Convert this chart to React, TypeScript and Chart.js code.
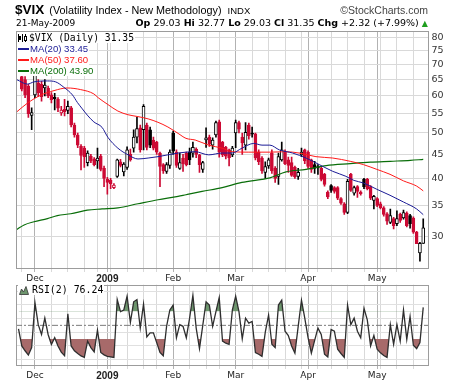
import React, { useEffect, useRef } from 'react';
import { Chart, registerables } from 'chart.js';

Chart.register(...registerables);

// ---------------- data ----------------
// one entry per trading day, 21-Nov-2008 .. 21-May-2009
const opens = [
  74, 66, 65, 63, 54.5, 60.3, 64, 63.5, 62.4, 62.4,
  60.3, 59.6, 59, 55.2, 56.2, 55.9, 56.6, 52, 49.5, 46.8,
  46.4, 43.2, 44.6, 44, 43.6, 44.6, 42, 39.8, 39.6, 38.2,
  40.4, 43.4, 41.3, 42.2, 45, 46.4, 49, 51.3, 50.8, 52,
  50.8, 48.3, 47.8, 45.3, 42.8, 41.4, 42.6, 50, 45.5, 42,
  44.2, 45.3, 45.5, 45.3, 46.2, 44.9, 41.8, 48.3, 49, 47.1,
  49.5, 52.8, 47.8, 46.6, 46, 44.9, 50, 52.6, 49, 47.1,
  52, 50, 49.8, 45.5, 44.2, 41.2, 42.5, 45.3, 42, 40.4,
  43.8, 45.5, 43.8, 43.2, 42.2, 40.4, 44.9, 46, 45.5, 43.8,
  42.8, 42.4, 42, 40.8, 37.4, 38.6, 38.2, 38.2, 36.2, 35.3,
  33.8, 40.8, 37.2, 38.4, 37.4, 39.8, 39.8, 38.4, 35.9, 36.2,
  35.3, 34.6, 33.6, 32.2, 32.8, 32, 33.5, 32.9, 33.7, 33.3,
  32.9, 30.7, 27.7, 29.03,
];
const highs = [
  78, 67.5, 66, 63.5, 56.6, 70, 65, 64.5, 65, 63,
  61, 60.8, 59.5, 57, 59, 58.5, 57, 52.5, 50, 47.2,
  46.8, 45.8, 45, 44.3, 46.4, 45, 42.5, 40.2, 40, 39,
  44, 43.9, 43.2, 46.7, 46.2, 50.8, 54, 52, 57.5, 52.5,
  51.5, 49, 48, 45.5, 43, 43.2, 46, 50.5, 46, 45.3,
  45, 45.5, 46.4, 47.8, 46.5, 45, 43.5, 51.3, 49.5, 48.8,
  53, 53.3, 48, 46.8, 46.2, 46.8, 53.3, 53, 50, 52.6,
  52.5, 51.5, 50, 46, 44.5, 43.4, 44.2, 46, 42.4, 45.3,
  47.8, 46, 44.4, 44.4, 42.5, 42, 46.4, 46.2, 45.8, 44,
  43.5, 42.8, 42.4, 41, 37.6, 38.8, 38.4, 38.4, 36.4, 35.5,
  39.8, 41, 38.5, 38.6, 37.6, 40, 40, 38.6, 36.8, 36.4,
  35.6, 34.8, 33.8, 34.4, 33, 34.1, 33.7, 34.2, 33.9, 33.5,
  33.1, 30.8, 29.2, 32.77,
];
const lows = [
  69, 61.5, 59.5, 54, 50.8, 59.5, 59.8, 58.5, 60, 59.5,
  58, 56, 55.5, 54.5, 54.4, 55, 51.5, 49, 46.5, 41.7,
  42.2, 42.5, 43.2, 42.5, 42, 41.5, 38.4, 37, 38, 38,
  40.2, 42.3, 40.5, 41.8, 43.5, 45.5, 47.6, 45.5, 46, 46,
  46.5, 46, 45, 38.4, 41, 41, 42, 45, 42.2, 41.8,
  41.4, 42.5, 42.8, 44.4, 44.3, 41.2, 41.2, 46.6, 46.8, 46.2,
  49, 44.4, 44.5, 44, 42.5, 44.5, 46.5, 50, 45, 46,
  48.5, 49, 43.8, 42.8, 41, 40, 42, 41, 39.2, 38.8,
  43.5, 42.8, 41.2, 40.4, 40, 39.8, 44.5, 43, 42, 41.2,
  41, 40.8, 39.5, 38.5, 36.2, 37.3, 37.2, 36, 35.2, 33.5,
  33.6, 37.5, 36.8, 36.4, 36.8, 38, 37.8, 36, 34.4, 34.8,
  34.4, 33.2, 31.9, 32, 31.2, 31.7, 32.2, 32.7, 31.5, 31.3,
  30.5, 29, 26.6, 29.03,
];
const closes = [
  72.7, 62, 60.3, 55, 55.3, 68.5, 61, 59.8, 63.3, 60,
  58.9, 59.2, 56.5, 56, 55.5, 57, 52, 49.5, 47.1, 44.8,
  44.5, 45.3, 43.6, 42.8, 44.2, 41.8, 40, 39.2, 38.9, 38.7,
  43.8, 42.6, 42.9, 46, 43.8, 49, 51.1, 46, 57, 46.6,
  47.1, 46.4, 45.5, 42.4, 41.5, 42.8, 45.5, 45.7, 42.6, 43.2,
  43, 42.8, 43.8, 46.6, 45, 42.8, 43.2, 48.8, 47.3, 48.3,
  52.6, 45.5, 44.9, 44.6, 44.3, 46.4, 52.65, 50.93, 47.6, 50.17,
  49.33, 49.68, 44.2, 43.4, 41.5, 42.4, 43.8, 41.5, 40, 44.5,
  46, 43, 42.6, 40.6, 40.3, 41.2, 45.5, 43.6, 42.4, 41.8,
  42, 42.1, 39.8, 38.8, 36.5, 37.7, 37.5, 36.3, 35.4, 33.8,
  39.4, 37.7, 38.2, 37.5, 37.1, 38.4, 38, 36.3, 36.6, 35,
  34.6, 33.5, 32.4, 33.3, 31.7, 32.8, 32.5, 33.8, 31.7, 32,
  30.7, 29.0, 29.03, 31.35,
];
const rsi2 = [
  45, 20, 13, 6.7, 17.6, 83, 51, 36.7, 60.5, 36.7,
  22, 32, 20, 11, 5.7, 66.7, 20, 12.9, 9, 5.5,
  3.3, 27, 17.6, 11.4, 43, 10.5, 7, 4.8, 4, 3.3,
  87.6, 70, 72.4, 92.4, 54.3, 84.3, 87.6, 46, 81, 33.3,
  39, 39, 24.8, 10.5, 5.7, 48.6, 72.4, 79.5, 32, 51,
  48.6, 32, 60.5, 93.8, 46, 16.2, 50, 84.3, 79.5, 48.6,
  70, 90.5, 27, 24, 22.4, 72.4, 92.4, 70, 30.5, 60.5,
  53.3, 55.7, 10.5, 8, 4.8, 40, 65, 22.4, 17.6, 79.5,
  86.7, 41.4, 35.2, 20, 9.5, 48.6, 86.7, 60.5, 32, 9.5,
  28, 46, 36.7, 8, 4, 43.8, 41.4, 15.2, 9, 3.3,
  79.5, 51, 60.5, 41.4, 32, 74.8, 58, 20, 35.2, 15.2,
  10, 6, 3.3, 51, 22.4, 51, 27, 72.4, 29.5, 62.9,
  21, 16.2, 24.8, 76.24,
];
// moving averages read at points along the curves: [day index, value]
const ma20 = [
  [-0.5, 65.0], [2.7, 63.6], [4.7, 64.3], [8.8, 64.6], [11.3, 64.3], [13.8, 62.6], [16.4, 60.3],
  [17.9, 58.1], [19.4, 56.3], [20.9, 54.6], [22.9, 52.8], [25.4, 51.4], [27.2, 48.9], [30.2, 46.4],
  [33.3, 44.9], [36.3, 44.0], [39.4, 44.2], [42.4, 44.5], [45.4, 44.9], [48.5, 45.3], [50.9, 45.5],
  [53.7, 45.6], [57.8, 44.9], [61.9, 45.3], [64.9, 45.3], [67.9, 46.4], [71.5, 47.5], [74.0, 47.1],
  [76.4, 47.1], [79.3, 46.0], [83.3, 45.3], [87.4, 44.2], [91.4, 42.8], [95.5, 41.4], [99.5, 40.4],
  [101.9, 39.6], [104.8, 39.1], [108.9, 37.9], [112.9, 36.8], [117, 35.6], [121, 34.4], [123, 33.45],
];
const ma50 = [
  [-0.5, 55.5], [2.7, 57.9], [6.7, 60.2], [10.8, 61.6], [14.8, 62.4], [18.9, 61.9], [22.9, 60.6],
  [24.2, 59.5], [27.2, 57.5], [30.2, 55.7], [33.3, 54.7], [36.3, 54.2], [39.4, 53.6], [42.4, 52.7],
  [45.4, 51.5], [48.5, 49.9], [50.9, 48.7], [53.7, 48.3], [57.8, 47.1], [61.9, 46.4], [64.9, 45.6],
  [70, 45.5], [76.4, 45.5], [81.3, 45.6], [85.3, 45.3], [90.4, 44.5], [95.5, 44.2], [100.8, 43.5],
  [104.8, 42.8], [108.9, 41.8], [112.9, 40.8], [117, 39.5], [121, 38.5], [123, 37.6],
];
const ma200 = [
  [-0.5, 31.1], [1.7, 31.8], [4.7, 32.3], [8.8, 32.8], [11.8, 33.3], [15.9, 33.6], [20.9, 34.2],
  [25.4, 34.4], [30.2, 34.6], [36.3, 35.3], [42.4, 36.0], [48.5, 36.6], [50.9, 36.9], [55.8, 37.5],
  [61.9, 38.2], [67.9, 39.2], [74, 39.8], [76.4, 40.1], [81.3, 41.3], [87.4, 41.8], [93.5, 42.6],
  [100.8, 43.0], [106.9, 43.3], [113, 43.5], [119.1, 43.7], [123, 43.9],
];
// x-axis: week starts and month starts (day indices), month labels
const weekTickIdx = [1, 5, 10, 15, 20, 24, 28, 33, 38, 42, 47, 52, 57, 61, 66, 71, 76, 81, 86, 91, 95, 100, 105, 110, 115, 120];
const monthTickIdx = [5, 27, 47, 66, 88, 109];
const monthTickLabels = ['Dec', '2009', 'Feb', 'Mar', 'Apr', 'May'];
const priceTicks = [30, 35, 40, 45, 50, 55, 60, 65, 70, 75, 80];
const rsiGridTicks = [0, 10, 20, 30, 40, 50, 60, 70, 80, 90, 100];
const rsiLabelTicks = [10, 30, 50, 70, 90];
const rsiUpper = 70;
const rsiLower = 30;
const rsiMid = 50;
const lastDate = '21-May-2009';

// ---------------- styling / layout ----------------
const X_MIN = -0.76;
const X_MAX = 124.6;
const PRICE_MIN = 25.6;
const PRICE_MAX = 82.6;
const RSI_MIN = -9.2;
const RSI_MAX = 109.2;
const RED = '#cc0a34';
const BLACK = '#000000';
const WEEK_GRID = '#d9d9d9';
const MONTH_GRID = '#b2b2b2';
const FRAME = '#9c9c9c';

const framePlugin = {
  id: 'frame',
  afterDraw(chart: any) {
    const { ctx, chartArea: a } = chart;
    ctx.save();
    ctx.strokeStyle = FRAME;
    ctx.lineWidth = 1;
    const l = Math.round(a.left) + 0.5;
    const t = Math.round(a.top) + 0.5;
    const r = Math.round(a.right) - 0.5;
    const b = Math.round(a.bottom) - 0.5;
    ctx.strokeRect(l, t, r - l, b - t);
    ctx.restore();
  },
};

function makeXScale(height: number) {
  const allTicks = Array.from(new Set([...weekTickIdx, ...monthTickIdx])).sort((a, b) => a - b);
  const gridCol = (c: any) => (c.tick && monthTickIdx.includes(c.tick.value) ? MONTH_GRID : WEEK_GRID);
  return {
    type: 'linear',
    position: 'bottom',
    min: X_MIN,
    max: X_MAX,
    offset: false,
    afterBuildTicks: (s: any) => {
      s.ticks = allTicks.map((v) => ({ value: v }));
    },
    afterFit: (s: any) => {
      s.height = height;
    },
    grid: { offset: false, color: gridCol, tickColor: gridCol, lineWidth: 1, drawTicks: true, tickLength: 3 },
    border: { display: false },
    ticks: {
      autoSkip: false,
      maxRotation: 0,
      minRotation: 0,
      padding: 1,
      color: '#222',
      font: (c: any) =>
        c.tick && c.tick.value === monthTickIdx[1]
          ? { family: '"Liberation Sans", Arial, sans-serif', size: 10, weight: 'bold' }
          : { family: '"DejaVu Sans", sans-serif', size: 9, weight: 'normal' },
      callback: (v: number) => {
        const k = monthTickIdx.indexOf(v);
        return k >= 0 ? monthTickLabels[k] : '';
      },
    },
  };
}

function CandleIcon() {
  const box = (l: number, t: number, w: number, h: number, filled: boolean) => (
    <div
      style={{
        position: 'absolute',
        left: l,
        top: t,
        width: w,
        height: h,
        boxSizing: 'border-box',
        background: filled ? '#000' : '#fff',
        border: filled ? 'none' : '1px solid #000',
      }}
    />
  );
  return (
    <div style={{ position: 'relative', width: 10, height: 8, marginLeft: 1 }}>
      {box(0, 0, 1, 8, true)}
      {box(1, 2, 2, 4, true)}
      {box(4, 0, 1, 8, true)}
      {box(7, 0, 1, 8, true)}
      {box(6, 2, 3, 5, false)}
    </div>
  );
}

export default function App() {
  const mainRef = useRef<HTMLCanvasElement>(null);
  const rsiRef = useRef<HTMLCanvasElement>(null);

  useEffect(() => {
    const candleColor = closes.map((c, i) => (i > 0 && c >= closes[i - 1] ? BLACK : RED));
    const hollow = closes.map((c, i) => c > opens[i]);
    const wickData = closes.map((_, i) => ({ x: i, y: [lows[i], highs[i]] }));
    const bodyData = closes.map((c, i) => ({ x: i, y: [opens[i], c] }));
    const toPts = (arr: number[][]) => arr.map(([x, y]) => ({ x, y }));

    const main = new Chart(mainRef.current as HTMLCanvasElement, {
      type: 'bar',
      data: {
        datasets: [
          {
            type: 'line',
            data: toPts(ma20),
            borderColor: '#1c1c96',
            borderWidth: 1,
            pointRadius: 0,
            cubicInterpolationMode: 'monotone',
            order: 0,
          } as any,
          {
            type: 'line',
            data: toPts(ma50),
            borderColor: '#ff1a1a',
            borderWidth: 1,
            pointRadius: 0,
            cubicInterpolationMode: 'monotone',
            order: 0,
          } as any,
          {
            type: 'line',
            data: toPts(ma200),
            borderColor: '#0a6e0a',
            borderWidth: 1.2,
            pointRadius: 0,
            cubicInterpolationMode: 'monotone',
            order: 0,
          } as any,
          {
            type: 'bar',
            data: bodyData,
            backgroundColor: closes.map((_, i) => (hollow[i] ? '#ffffff' : candleColor[i])),
            borderColor: candleColor,
            borderWidth: 1,
            borderSkipped: false,
            barThickness: 3,
            minBarLength: 1,
            grouped: false,
            order: 1,
          } as any,
          {
            type: 'bar',
            data: wickData,
            backgroundColor: candleColor,
            borderWidth: 0,
            barThickness: 1,
            grouped: false,
            order: 2,
          } as any,
        ],
      },
      options: {
        responsive: false,
        animation: false,
        devicePixelRatio: 1,
        events: [],
        layout: { padding: { left: 16, top: 31, right: 0, bottom: 0 } },
        plugins: { legend: { display: false }, tooltip: { enabled: false } },
        scales: {
          x: makeXScale(14) as any,
          y: {
            type: 'logarithmic',
            position: 'right',
            min: PRICE_MIN,
            max: PRICE_MAX,
            afterBuildTicks: (s: any) => {
              s.ticks = priceTicks.map((v) => ({ value: v }));
            },
            afterFit: (s: any) => {
              s.width = 31.5;
            },
            grid: { color: WEEK_GRID, drawTicks: false },
            border: { display: false },
            ticks: {
              padding: 3,
              color: '#333',
              font: { family: '"DejaVu Sans", sans-serif', size: 9.5 },
              callback: (v: number) => String(v),
            },
          } as any,
        },
      },
      plugins: [framePlugin],
    });

    const rsiPts = rsi2.map((v, i) => ({ x: i, y: v }));
    const rsi = new Chart(rsiRef.current as HTMLCanvasElement, {
      type: 'line',
      data: {
        datasets: [
          {
            data: rsiPts,
            borderColor: '#2e2e2e',
            borderWidth: 1.3,
            pointRadius: 0,
            fill: { target: { value: rsiUpper }, above: '#6d956d', below: 'rgba(0,0,0,0)' },
          } as any,
          {
            data: rsiPts,
            borderWidth: 0,
            borderColor: 'rgba(0,0,0,0)',
            pointRadius: 0,
            fill: { target: { value: rsiLower }, above: 'rgba(0,0,0,0)', below: '#a76a6a' },
          } as any,
          {
            data: [
              { x: X_MIN, y: rsiMid },
              { x: X_MAX, y: rsiMid },
            ],
            borderColor: '#7a7a7a',
            borderWidth: 1,
            borderDash: [6, 2, 2, 2],
            pointRadius: 0,
            fill: false,
          } as any,
        ],
      },
      options: {
        responsive: false,
        animation: false,
        devicePixelRatio: 1,
        events: [],
        layout: { padding: { left: 16, top: 7, right: 0, bottom: 0 } },
        plugins: { legend: { display: false }, tooltip: { enabled: false } },
        scales: {
          x: makeXScale(17) as any,
          y: {
            type: 'linear',
            position: 'right',
            min: RSI_MIN,
            max: RSI_MAX,
            afterBuildTicks: (s: any) => {
              s.ticks = rsiGridTicks.map((v) => ({ value: v }));
            },
            afterFit: (s: any) => {
              s.width = 31.5;
            },
            grid: {
              drawTicks: false,
              color: (c: any) => {
                const v = c.tick ? c.tick.value : null;
                if (v === rsiUpper || v === rsiLower) return '#7a7a7a';
                if (v === rsiMid) return 'rgba(0,0,0,0)';
                return '#e0e0e0';
              },
            },
            border: { display: false },
            ticks: {
              padding: 3,
              color: '#333',
              font: { family: '"DejaVu Sans", sans-serif', size: 9.5 },
              callback: (v: number) => (rsiLabelTicks.includes(v) ? String(v) : ''),
            },
          } as any,
        },
      },
      plugins: [framePlugin],
    });

    return () => {
      main.destroy();
      rsi.destroy();
    };
  }, []);

  const n = closes.length;
  const lastClose = closes[n - 1];
  const prevClose = closes[n - 2];
  const chg = lastClose - prevClose;
  const chgPct = (chg / prevClose) * 100;
  const sign = chg >= 0 ? '+' : '-';
  const last = (arr: number[][]) => arr[arr.length - 1][1].toFixed(2);

  const maRow = (color: string, label: string) => (
    <div style={{ display: 'flex', alignItems: 'center', height: 11, background: '#fff', width: 'max-content', paddingRight: 1 }}>
      <div style={{ width: 11, height: 2, background: color, marginLeft: 1, marginRight: 1 }} />
      <span style={{ color, fontFamily: '"Liberation Sans", Arial, sans-serif', fontSize: 9.6, lineHeight: '11px' }}>{label}</span>
    </div>
  );

  return (
    <div style={{ position: 'absolute', left: 0, top: 0, width: 460, height: 383, background: '#fff', overflow: 'hidden' }}>
      <canvas ref={mainRef} width={460} height={283} style={{ position: 'absolute', left: 0, top: 0, width: 460, height: 283 }} />
      <canvas ref={rsiRef} width={460} height={107} style={{ position: 'absolute', left: 0, top: 276, width: 460, height: 107 }} />

      <div
        style={{
          position: 'absolute',
          left: 15,
          top: 1,
          whiteSpace: 'nowrap',
          fontFamily: '"Liberation Sans", Arial, sans-serif',
          lineHeight: '16px',
          color: '#000',
        }}
      >
        <span style={{ fontWeight: 700, fontSize: 13.5 }}>$VIX</span>
        <span style={{ fontSize: 10.8, marginLeft: 5 }}>(Volatility Index - New Methodology)</span>
        <span style={{ fontSize: 9.5, marginLeft: 6 }}>INDX</span>
      </div>
      <div
        style={{
          position: 'absolute',
          right: 32,
          top: 3,
          fontFamily: '"Liberation Sans", Arial, sans-serif',
          fontSize: 10.5,
          lineHeight: '14px',
          color: '#444',
          whiteSpace: 'nowrap',
        }}
      >
        ©StockCharts.com
      </div>
      <div style={{ position: 'absolute', left: 16, top: 17, fontFamily: '"DejaVu Sans", sans-serif', fontSize: 9, lineHeight: '12px', color: '#000' }}>
        {lastDate}
      </div>
      <div
        style={{
          position: 'absolute',
          right: 32,
          top: 17,
          fontFamily: '"DejaVu Sans", sans-serif',
          fontSize: 9.5,
          lineHeight: '12px',
          whiteSpace: 'nowrap',
          color: '#000',
        }}
      >
        <b>Op</b> {opens[n - 1].toFixed(2)} <b>Hi</b> {highs[n - 1].toFixed(2)} <b>Lo</b> {lows[n - 1].toFixed(2)} <b>Cl</b>{' '}
        {lastClose.toFixed(2)} <b>Chg</b> {sign}
        {Math.abs(chg).toFixed(2)} ({sign}
        {Math.abs(chgPct).toFixed(2)}%) <span style={{ color: '#1e9e1e', fontSize: 8 }}>▲</span>
      </div>

      <div style={{ position: 'absolute', left: 17, top: 32 }}>
        <div style={{ display: 'flex', alignItems: 'center', height: 11, background: '#fff', width: 'max-content', paddingRight: 1 }}>
          <CandleIcon />
          <span style={{ fontFamily: '"DejaVu Sans Mono", monospace', fontSize: 9.7, lineHeight: '11px', marginLeft: 1, color: '#000' }}>
            $VIX (Daily) {lastClose.toFixed(2)}
          </span>
        </div>
        {maRow('#1c1c96', `MA(20) ${last(ma20)}`)}
        {maRow('#ff1a1a', `MA(50) ${last(ma50)}`)}
        {maRow('#0a6e0a', `MA(200) ${last(ma200)}`)}
      </div>

      <div style={{ position: 'absolute', left: 18, top: 285, display: 'flex', alignItems: 'center', height: 10, background: '#fff', paddingRight: 1 }}>
        <svg width={10} height={9} style={{ marginLeft: 1 }}>
          <polygon points="0.5,8.5 2.5,3 4.5,6 7,0.5 9.5,8.5" fill="#6d956d" stroke="#333" strokeWidth={0.8} />
        </svg>
        <span style={{ fontFamily: '"DejaVu Sans Mono", monospace', fontSize: 9.9, lineHeight: '10px', marginLeft: 3, color: '#000' }}>
          RSI(2) {rsi2[rsi2.length - 1].toFixed(2)}
        </span>
      </div>
    </div>
  );
}
